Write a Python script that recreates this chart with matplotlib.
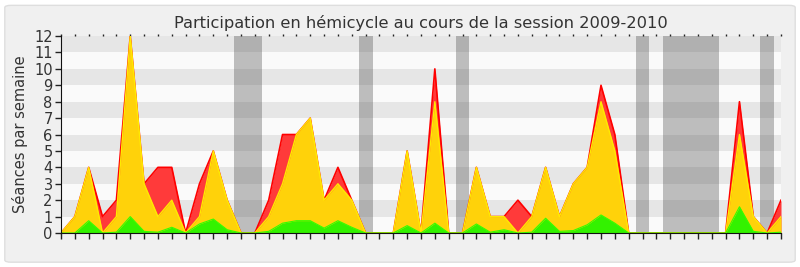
import matplotlib
matplotlib.use("Agg")
import matplotlib.pyplot as plt
from matplotlib.patches import FancyBboxPatch

# ---- data ----
weeks = list(range(53))
presence = [0, 1, 4, 1, 2, 12, 3, 4, 4, 0, 3, 5, 2, 0, 0, 2, 6, 6, 7, 2, 4, 2, 0, 0, 0, 5, 0,
            10, 0, 0, 4, 1, 1, 2, 1, 4, 1, 3, 4, 9, 6, 0, 0, 0, 0, 0, 0, 0, 0, 8, 1, 0, 2]
interventions = [0, 1, 4, 0, 1, 12, 3, 1, 2, 0, 1, 5, 2, 0, 0, 1, 3, 6, 7, 2, 3, 2, 0, 0, 0, 5, 0,
                 8, 0, 0, 4, 1, 1, 0, 1, 4, 1, 3, 4, 8, 5, 0, 0, 0, 0, 0, 0, 0, 0, 6, 1, 0, 1]
commissions = [0, 0, 0.75, 0, 0.05, 1, 0.1, 0.05, 0.35, 0, 0.55, 0.85, 0.2, 0, 0, 0.1, 0.6, 0.75,
               0.75, 0.3, 0.75, 0.35, 0, 0, 0, 0.45, 0, 0.6, 0, 0, 0.55, 0.05, 0.2, 0, 0.05, 0.9,
               0.1, 0.15, 0.5, 1.1, 0.6, 0, 0, 0, 0, 0, 0, 0, 0, 1.6, 0.1, 0, 0.05]
holidays = [(12.5, 14.5), (21.5, 22.5), (28.5, 29.5), (41.5, 42.5), (43.5, 47.5), (50.5, 51.5)]
month_pos = [1, 6, 11, 15, 18, 22, 27, 31, 36, 40, 45, 50]
month_labels = ["Oct", "Nov", "Déc", "Jan 10", "Fév", "Mar", "Avr", "Mai", "Juin", "Juil",
                "Août", "Sept"]
ymax = 12

plt.rcParams['font.family'] = ['DejaVu Sans']
fig = plt.figure(figsize=(8, 2.67), dpi=100)
fig.patch.set_facecolor('white')
frame = FancyBboxPatch((0.006, 0.018), 0.988, 0.962, boxstyle="round,pad=0,rounding_size=0.008",
                       transform=fig.transFigure, facecolor='#f0f0f0', edgecolor='#dedede',
                       linewidth=1, zorder=-10)
fig.patches.append(frame)

ax = fig.add_axes([0.07625, 0.1273, 0.9, 0.7377])
ax.set_facecolor('#fafafa')
ax.set_xlim(0, 52)
ax.set_ylim(0, ymax)

for k in range(1, ymax, 2):
    ax.axhspan(k, k + 1, color='#e6e6e6', lw=0, zorder=0)
for a, b in holidays:
    ax.axvspan(a, b, color='#333333', alpha=0.3, lw=0, zorder=1)

ax.fill_between(weeks, presence, color='#ff3a3a', lw=0, zorder=2)
ax.plot(weeks, presence, color='#ff0000', lw=1.2, zorder=3)
ax.fill_between(weeks, interventions, color='#ffd20a', lw=0, zorder=4)
ax.plot(weeks, interventions, color='#ffea00', lw=1.0, zorder=5)
ax.fill_between(weeks, commissions, color='#33f200', lw=0, zorder=6)
ax.plot(weeks, commissions, color='#33ff00', lw=0.8, zorder=7)

ax.set_yticks(range(ymax + 1))
ax.tick_params(axis='y', length=4, width=1, color='#222222', labelsize=10.5,
               labelcolor='#333333', pad=2)
ax.set_xticks(weeks)
ax.set_xticklabels([])
ax.tick_params(axis='x', which='major', length=4, width=1, color='#222222', direction='out')
ax.set_xticks(month_pos, month_labels, minor=True)
ax.tick_params(axis='x', which='minor', length=0, labelsize=10.5, labelcolor='#333333', pad=3)

top = ax.secondary_xaxis('top')
top.set_xticks(weeks)
top.set_xticklabels([])
top.tick_params(length=1.5, width=1, color='#222222', direction='out')
top.spines['top'].set_visible(False)

for s in ['top', 'right']:
    ax.spines[s].set_visible(False)
ax.spines['left'].set_color('#111111')
ax.spines['bottom'].set_color('#111111')
ax.spines['left'].set_zorder(10)
ax.spines['bottom'].set_zorder(10)

ax.set_ylabel("Séances par semaine", fontsize=10.5, color='#333333', labelpad=4)
ax.set_title("Participation en hémicycle au cours de la session 2009-2010", fontsize=11.7,
             color='#333333', pad=6)

fig.savefig("out.png", dpi=100, facecolor=fig.get_facecolor())
